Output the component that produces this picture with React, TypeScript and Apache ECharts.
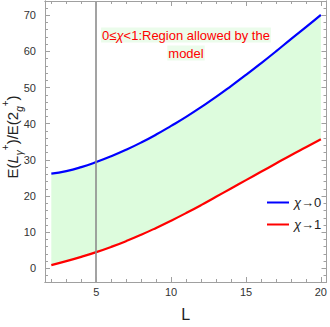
import React, { useEffect, useRef } from "react";
import * as echarts from "echarts";

const L_VALUES = [2, 3, 4, 5, 6, 7, 8, 9, 10, 11, 12, 13, 14, 15, 16, 17, 18, 19, 20];
const CHI0 = [26.2, 26.9, 28.0, 29.4, 31.0, 32.8, 34.8, 37.0, 39.4, 41.9, 44.6, 47.4, 50.4, 53.5, 56.7, 60.0, 63.4, 66.7, 70.1];
const CHI1 = [0.9, 2.0, 3.2, 4.5, 5.95, 7.55, 9.3, 11.2, 13.2, 15.3, 17.5, 19.8, 22.1, 24.4, 26.7, 29.0, 31.3, 33.5, 35.7];
const X_MAJOR = [5, 10, 15, 20];
const X_MINOR = [2, 3, 4, 5, 6, 7, 8, 9, 10, 11, 12, 13, 14, 15, 16, 17, 18, 19, 20];
const Y_MAJOR = [0, 10, 20, 30, 40, 50, 60, 70];
const Y_MINOR = [-2, 0, 2, 4, 6, 8, 10, 12, 14, 16, 18, 20, 22, 24, 26, 28, 30, 32, 34, 36, 38, 40, 42, 44, 46, 48, 50, 52, 54, 56, 58, 60, 62, 64, 66, 68, 70, 72];
const BAND_LINE = 5;
const SERIES_NAMES = ["χ→0", "χ→1"];
const NOTE_LINES = ["0≤{i|χ}<1:Region allowed by the", "model"];
const Y_TITLE = "E({it|L}{sub|γ}{sup|+})/E(2{sub|g}{sup|+})";
const X_TITLE = "L";

const X_MIN = 1.578;
const X_MAX = 20.377;
const Y_MIN = -3.76;
const Y_MAX = 73.93;

const FONT = "'Liberation Sans', Arial, sans-serif";
const FRAME = "#a0a0a0";

function xAxisDef(position: string, ticks: number[], len: number, labels: boolean, name?: string): any {
  return {
    type: "value",
    position,
    min: X_MIN,
    max: X_MAX,
    z: 5,
    name: name || "",
    nameLocation: "middle",
    nameGap: 24,
    nameTextStyle: { fontFamily: FONT, fontSize: 16, color: "#222" },
    axisLine: { show: true, onZero: false, lineStyle: { color: FRAME, width: 1 } },
    axisTick: { show: true, inside: true, length: len, customValues: ticks, lineStyle: { color: FRAME } },
    axisLabel: labels
      ? { show: true, customValues: ticks, margin: 4, fontFamily: FONT, fontSize: 11, color: "#333" }
      : { show: false },
    splitLine: { show: false },
  };
}

function yAxisDef(position: string, ticks: number[], len: number, labels: boolean): any {
  return {
    type: "value",
    position,
    min: Y_MIN,
    max: Y_MAX,
    z: 5,
    axisLine: { show: true, onZero: false, lineStyle: { color: FRAME, width: 1 } },
    axisTick: { show: true, inside: true, length: len, customValues: ticks, lineStyle: { color: FRAME } },
    axisLabel: labels
      ? { show: true, customValues: ticks, margin: 9, fontFamily: FONT, fontSize: 11, color: "#333" }
      : { show: false },
    splitLine: { show: false },
  };
}

export default function App() {
  const ref = useRef<HTMLDivElement>(null);

  useEffect(() => {
    if (!ref.current) return;
    const chart = echarts.init(ref.current, undefined, { renderer: "svg" });

    const rows = L_VALUES.map((l, i) => [l, CHI0[i], CHI1[i]]);
    const lower = L_VALUES.map((l, i) => [l, CHI1[i]]);
    const upper = L_VALUES.map((l, i) => [l, CHI0[i]]);

    chart.setOption({
      animation: false,
      grid: { left: 45, top: 1, width: 284, height: 283, containLabel: false },
      xAxis: [
        xAxisDef("bottom", X_MAJOR, 5, true, X_TITLE),
        xAxisDef("bottom", X_MINOR, 3, false),
        xAxisDef("top", X_MAJOR, 5, false),
        xAxisDef("top", X_MINOR, 3, false),
      ],
      yAxis: [
        yAxisDef("left", Y_MAJOR, 5, true),
        yAxisDef("left", Y_MINOR, 3, false),
        yAxisDef("right", Y_MAJOR, 5, false),
        yAxisDef("right", Y_MINOR, 3, false),
      ],
      legend: {
        data: SERIES_NAMES,
        orient: "vertical",
        left: 262,
        top: 191,
        itemWidth: 22,
        itemHeight: 2,
        itemGap: 9,
        icon: "rect",
        formatter: (n: string) => "{i|χ}" + n.slice(1),
        textStyle: {
          fontFamily: FONT,
          fontSize: 13,
          color: "#222",
          rich: { i: { fontFamily: FONT, fontSize: 13, fontStyle: "italic", color: "#222" } },
        },
      },
      graphic: [
        ...NOTE_LINES.map((t, i) => ({
          type: "text",
          x: 186,
          y: 35 + i * 18,
          z: 10,
          style: {
            text: t,
            align: "center",
            verticalAlign: "middle",
            fontFamily: FONT,
            fontSize: 13,
            fill: "#ff0000",
            backgroundColor: "#ebfceb",
            padding: [1, 1],
            rich: { i: { fontFamily: FONT, fontSize: 13, fontStyle: "italic", fill: "#ff0000", color: "#ff0000" } },
          },
        })),
        {
          type: "text",
          x: 12,
          y: 137,
          rotation: Math.PI / 2,
          z: 10,
          style: {
            text: Y_TITLE,
            align: "center",
            verticalAlign: "middle",
            fontFamily: FONT,
            fontSize: 15,
            fill: "#222",
            lineHeight: 24,
            rich: {
              it: { fontFamily: FONT, fontSize: 15, fontStyle: "italic", fill: "#222", lineHeight: 24 },
              sub: { fontFamily: FONT, fontSize: 10, fontStyle: "italic", fill: "#222", verticalAlign: "bottom" },
              sup: { fontFamily: FONT, fontSize: 10, fill: "#222", verticalAlign: "top" },
            },
          },
        },
      ],
      series: [
        {
          name: "band",
          type: "custom",
          silent: true,
          z: 1,
          data: [0],
          renderItem: (params: any, api: any) => {
            const top = rows.map((r) => api.coord([r[0], r[1]]));
            const bottom = rows.slice().reverse().map((r) => api.coord([r[0], r[2]]));
            return {
              type: "polygon",
              shape: { points: top.concat(bottom) },
              style: { fill: "#ddfcdd", stroke: "none" },
            };
          },
        },
        {
          name: SERIES_NAMES[0],
          type: "line",
          data: upper,
          smooth: 0.5,
          symbol: "none",
          color: "#0000ff",
          lineStyle: { color: "#0000ff", width: 2.2 },
          z: 3,
        },
        {
          name: SERIES_NAMES[1],
          type: "line",
          data: lower,
          smooth: 0.5,
          symbol: "none",
          color: "#ff0000",
          lineStyle: { color: "#ff0000", width: 2.2 },
          z: 3,
          markLine: {
            silent: true,
            symbol: "none",
            label: { show: false },
            lineStyle: { color: "#8c8c8c", width: 1.6, type: "solid" },
            data: [{ xAxis: BAND_LINE }],
          },
        },
      ],
    });

    return () => chart.dispose();
  }, []);

  return <div ref={ref} style={{ width: 330, height: 327, position: "absolute", left: 0, top: 0 }} />;
}
